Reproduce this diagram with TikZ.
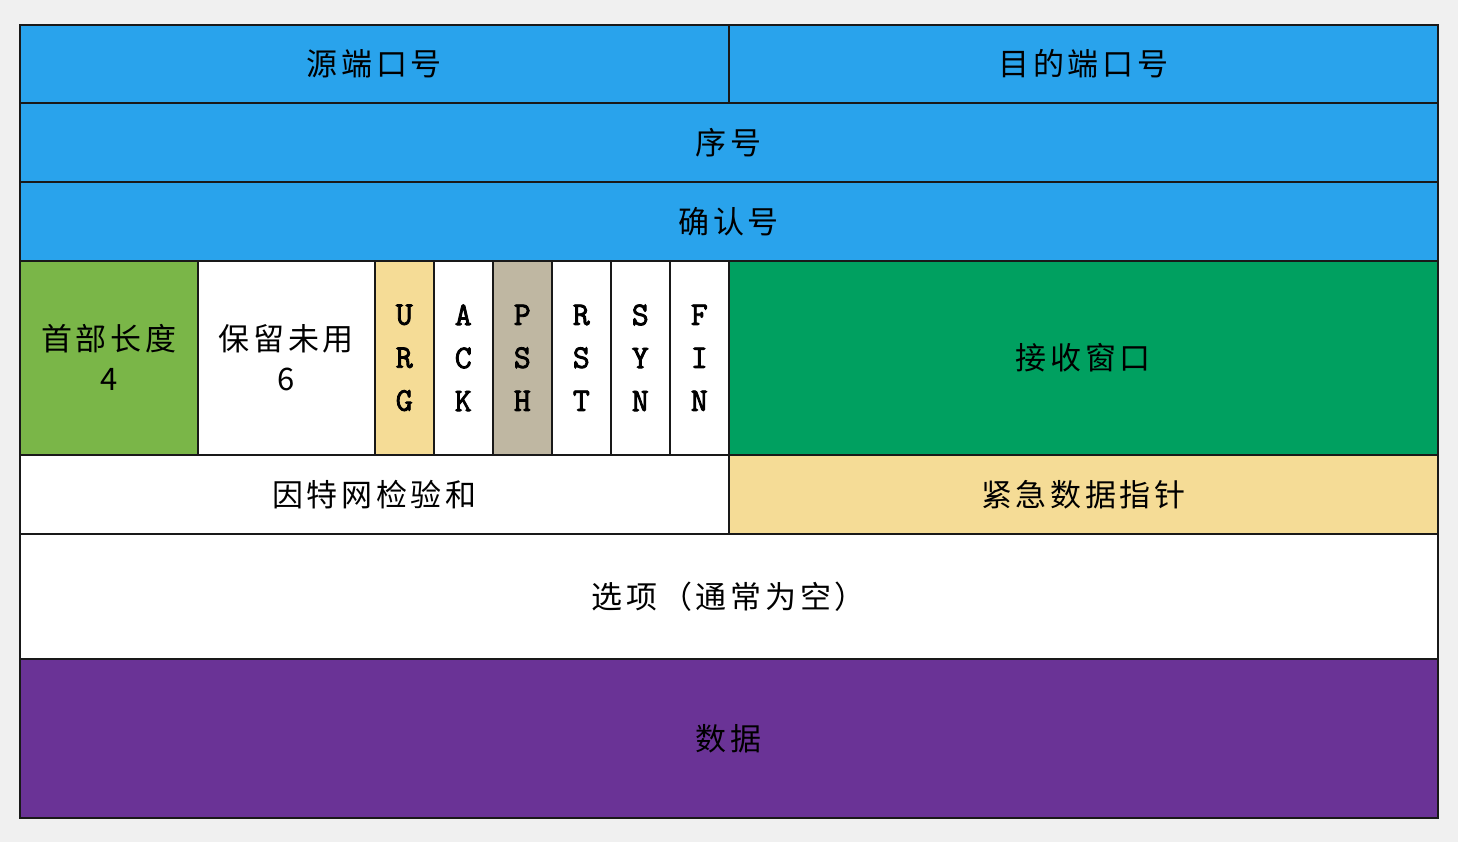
\documentclass[tikz,border=0pt]{standalone}
\usepackage{fontspec}
\usepackage{tikz}
\newfontfamily\cjkfont{Noto Sans CJK SC}[LetterSpace=12]
\newfontfamily\flagfont{Latin Modern Mono}[FakeBold=2.5]
\definecolor{hdrblue}{RGB}{41,163,236}
\definecolor{lengreen}{RGB}{122,182,72}
\definecolor{wingreen}{RGB}{0,160,96}
\definecolor{urgyellow}{RGB}{245,220,150}
\definecolor{pshgray}{RGB}{191,183,162}
\definecolor{datapurple}{RGB}{106,51,150}
\definecolor{edgeblack}{RGB}{25,25,25}
\tikzset{
    field/.style={rectangle, draw=edgeblack, line width=1.6pt, inner sep=0pt,
      anchor=north west, align=center, font=\cjkfont\fontsize{31}{40}\selectfont},
    flagbit/.style={field, minimum width=59pt, minimum height=194pt,
      font=\flagfont\fontsize{33}{43}\selectfont},
}

\begin{document}
\begin{tikzpicture}[x=1pt,y=-1pt]
  \useasboundingbox (0,0) rectangle (1458,841);
  \shade[inner color=white, outer color=black!6] (0,0) rectangle (1458,841);
  % Row 1: ports
  \node[field, fill=hdrblue, minimum width=709pt, minimum height=78pt]
    (srcport) at (19,24) {源端口号};
  \node[field, fill=hdrblue, minimum width=709pt, minimum height=78pt]
    (dstport) at (728,24) {目的端口号};
  % Row 2 and 3: sequence numbers
  \node[field, fill=hdrblue, minimum width=1418pt, minimum height=79pt]
    (seqno) at (19,102) {序号};
  \node[field, fill=hdrblue, minimum width=1418pt, minimum height=79pt]
    (ackno) at (19,181) {确认号};
  % Row 4: header length, reserved, 6 flags, window
  \node[field, fill=lengreen, minimum width=178pt, minimum height=194pt]
    (hdrlen) at (19,260) {首部长度\\4};
  \node[field, fill=white, minimum width=177pt, minimum height=194pt]
    (reserved) at (197,260) {保留未用\\6};
  \foreach \a/\b/\c/\col [count=\i from 0] in
      {U/R/G/urgyellow, A/C/K/white, P/S/H/pshgray,
       R/S/T/white, S/Y/N/white, F/I/N/white}{
    \pgfmathsetmacro{\x}{374+59*\i}
    \node[flagbit, fill=\col] (flag-\i) at (\x,260) {\a\\\b\\\c};
  }
  \node[field, fill=wingreen, minimum width=709pt, minimum height=194pt]
    (window) at (728,260) {接收窗口};
  % Row 5: checksum, urgent pointer
  \node[field, fill=white, minimum width=709pt, minimum height=79pt]
    (checksum) at (19,454) {因特网检验和};
  \node[field, fill=urgyellow, minimum width=709pt, minimum height=79pt]
    (urgptr) at (728,454) {紧急数据指针};
  % Row 6 and 7: options, data
  \node[field, fill=white, minimum width=1418pt, minimum height=125pt]
    (options) at (19,533) {选项（通常为空）};
  \node[field, fill=datapurple, minimum width=1418pt, minimum height=159pt]
    (payload) at (19,658) {数据};
\end{tikzpicture}
\end{document}
